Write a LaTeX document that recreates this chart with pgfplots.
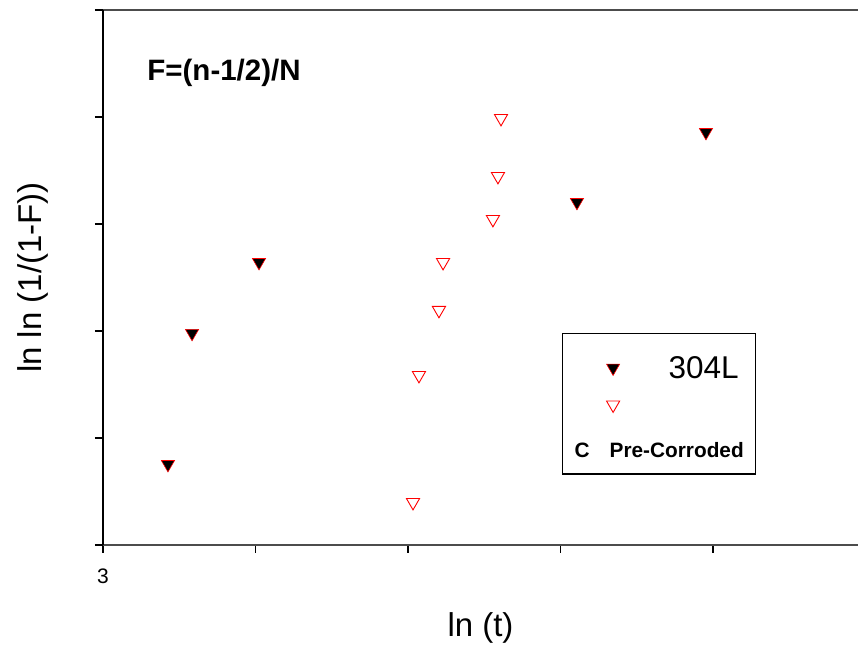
\documentclass[border=0pt]{standalone}
\usepackage{fontspec}
\setmainfont{Liberation Sans}
\usepackage{pgfplots}
\pgfplotsset{compat=1.18}
\usetikzlibrary{calc}

\begin{document}
\begin{tikzpicture}
\begin{axis}[
  name=ax,
  scale only axis, width=755pt, height=535pt,
  xmin=3, xmax=7.951, ymin=0, ymax=5,
  axis x line*=box, axis y line*=left,
  x axis line style={black!70, line width=1.6pt},
  y axis line style={black, line width=1.6pt},
  xtick={3,4,5,6,7}, xticklabels={3,,,,},
  ytick={0,1,2,3,4,5}, yticklabels={},
  xtick pos=bottom, ytick pos=left,
  tick align=outside, major tick length=8pt,
  tick style={black, line width=1.2pt},
  xticklabel style={font=\fontsize{21}{21}\selectfont, yshift=-12pt},
  xlabel={ln (t)}, ylabel={ln ln (1/(1-F))},
  label style={font=\fontsize{33}{33}\selectfont},
  xlabel style={at={(axis description cs:0.5,-0.155)}, anchor=center},
  ylabel style={at={(axis description cs:-0.0927,0.5)}, anchor=center},
  legend style={at={(axis cs:6.010,1.981)}, anchor=north west,
    draw=black, line width=1.2pt, fill=white,
    inner xsep=12pt, inner ysep=17pt, row sep=22.4pt, column sep=12pt,
    nodes={inner sep=0pt, text depth=0pt}, cells={anchor=base west}},
]
% 304L
\addplot[forget plot, only marks, mark=triangle*, mark size=7.6pt,
  mark options={rotate=180, fill=black, draw=red, line width=0.6pt}]
  coordinates {(3.426,0.754) (3.584,1.979) (4.023,2.642) (6.108,3.203) (6.954,3.857)};
% pre-corroded
\addplot[forget plot, only marks, mark=triangle*, mark size=7.6pt,
  mark options={rotate=180, fill=white, draw=red, line width=0.9pt}]
  coordinates {(5.033,0.399) (5.072,1.586) (5.203,2.194) (5.230,2.642)
               (5.557,3.044) (5.590,3.446) (5.610,3.988)};

\addlegendimage{legend image code/.code={
  \draw[red, line width=0.6pt, mark=triangle*, mark size=7.6pt,
    mark options={rotate=180, fill=black, draw=red}]
    plot[only marks] coordinates {(0pt,10.75pt)};}}
\addlegendentry{\rule{0pt}{28pt}\hspace{37pt}\fontsize{31.5}{32}\selectfont 304L\hspace{4pt}}
\addlegendimage{legend image code/.code={
  \draw[red, line width=0.9pt, mark=triangle*, mark size=7.6pt,
    mark options={rotate=180, fill=white, draw=red}]
    plot[only marks] coordinates {(0pt,10.75pt)};}}
\addlegendentry{}
\addlegendimage{legend image code/.code={
  \node[font=\bfseries\fontsize{20.8}{21}\selectfont, anchor=base, inner sep=0pt]
    at (-31pt,0pt) {C};}}
\addlegendentry{\rule{0pt}{18.6pt}\hspace{-22pt}\bfseries\fontsize{20.8}{21}\selectfont Pre-Corroded}

\node[anchor=west, inner sep=0pt, font=\bfseries\fontsize{29.5}{30}\selectfont]
  at (axis cs:3.29,4.41) {F=(n-1/2)/N};
\end{axis}
\pgfresetboundingbox
\path ($(ax.south west)+(-103pt,-102pt)$) rectangle ($(ax.north east)+(0pt,10pt)$);
\end{tikzpicture}
\end{document}
